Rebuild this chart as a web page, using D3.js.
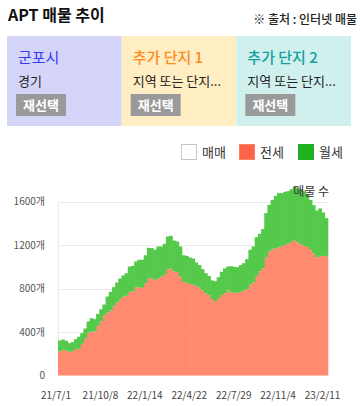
<!DOCTYPE html>
<html><head><meta charset="utf-8">
<script src="https://cdn.jsdelivr.net/npm/d3@7"></script>
<style>
html,body{margin:0;padding:0;background:#fff;}
svg{display:block;font-family:"Noto Sans CJK KR","Noto Sans",sans-serif;}
</style></head>
<body>
<svg id="c" width="360" height="406"></svg>
<script>
// ---- data ----
const jeonse = [221,236,230,218,224,242,245,291,340,395,405,405,457,497,555,579,598,641,671,702,726,
  733,769,772,812,812,806,849,892,895,880,892,910,926,978,984,956,953,910,861,855,843,834,
  824,809,782,757,739,702,683,714,739,757,782,763,763,760,769,782,794,837,855,916,959,987,
  1088,1140,1159,1171,1177,1192,1201,1214,1229,1247,1223,1208,1192,1183,1162,1125,1085,1100,1100,1094];
const wolse = [101,95,89,79,83,92,111,98,92,102,122,113,110,113,98,147,171,171,184,190,194,
  208,233,236,236,252,258,257,282,276,276,294,276,285,300,300,285,279,276,245,245,242,242,
  215,206,196,184,177,172,184,190,214,227,220,242,236,236,246,251,276,319,331,356,344,359,
  405,429,456,481,500,485,488,481,484,491,496,505,503,478,453,441,432,436,399,353];
const tickLabels = ["21/7/1","21/10/8","22/1/14","22/4/22","22/7/29","22/11/4","23/2/11"];
const tickEvery = 14;
const yTicks = [0,400,800,1200,1600];
const seriesKeys = ["전세","월세"];
const legendItems = ["매매","전세","월세"];
const panels = [
  {title:"군포시", sub:"경기"},
  {title:"추가 단지 1", sub:"지역 또는 단지..."},
  {title:"추가 단지 2", sub:"지역 또는 단지..."}
];

// ---- styles ----
const colors = {"전세":"#ff8a70","월세":"#55c94b"};
const legendFill = {"매매":"#ffffff","전세":"#ff6347","월세":"#1db31d"};
const legendStroke = {"매매":"#c4c4cc","전세":"#ff7f66","월세":"#2aa52a"};
const panelBg = ["#d5d5fa","#ffedc3","#d0f0ee"];
const panelColor = ["#3a3af5","#ff8c1a","#14a0a0"];

const svg = d3.select("#c");

// header
svg.append("text").attr("x",8).attr("y",21).attr("font-size",16).attr("font-weight","bold")
  .attr("fill","#111").text("APT 매물 추이");
svg.append("text").attr("x",357).attr("y",24).attr("font-size",12).attr("font-weight",500)
  .attr("text-anchor","end").attr("fill","#222").text("※ 출처 : 인터넷 매물");

// panels
const px = d3.scaleBand().domain(d3.range(panels.length)).range([7,351]);
panels.forEach((p,i)=>{
  const g = svg.append("g").attr("transform",`translate(${px(i)},36)`);
  g.append("rect").attr("width",px.bandwidth()).attr("height",90).attr("fill",panelBg[i]);
  g.append("text").attr("x",11).attr("y",27).attr("font-size",15).attr("fill",panelColor[i])
    .attr("font-weight",i===0?400:500).text(p.title);
  g.append("text").attr("x",11).attr("y",50).attr("font-size",13).attr("fill","#222").text(p.sub);
  g.append("rect").attr("x",9).attr("y",58).attr("width",50).attr("height",22).attr("fill","#9a9a9a");
  g.append("text").attr("x",34).attr("y",74).attr("text-anchor","middle").attr("font-size",13)
    .attr("font-weight","bold").attr("fill","#fff").text("재선택");
});

// legend
const lx = d3.scaleOrdinal().domain(legendItems).range([181,239,298]);
legendItems.forEach(k=>{
  const g = svg.append("g").attr("transform",`translate(${lx(k)},144)`);
  g.append("rect").attr("x",0.5).attr("y",0.5).attr("width",15).attr("height",15)
    .attr("fill",legendFill[k]).attr("stroke",legendStroke[k]).attr("stroke-width",1);
  g.append("text").attr("x",21).attr("y",13).attr("font-size",13).attr("fill","#333").text(k);
});

// chart
const x = d3.scaleBand().domain(d3.range(jeonse.length)).range([58,327.7]).padding(0);
const y = d3.scaleLinear().domain([0,1600]).range([375.5,201.5]);

const grid = svg.append("g");
grid.selectAll("line").data(yTicks.slice(1)).join("line")
  .attr("x1",58).attr("x2",328).attr("y1",d=>Math.round(y(d))+0.5).attr("y2",d=>Math.round(y(d))+0.5)
  .attr("stroke","#ebebeb");
grid.append("line").attr("x1",58.5).attr("x2",58.5).attr("y1",y(1600)).attr("y2",y(0)).attr("stroke","#ebebeb");

const rows = jeonse.map((v,i)=>({i, "전세":v, "월세":wolse[i]}));
const stacked = d3.stack().keys(seriesKeys)(rows);
svg.append("g").selectAll("g").data(stacked).join("g").attr("fill",d=>colors[d.key])
  .selectAll("rect").data(d=>d).join("rect")
  .attr("x",d=>x(d.data.i)).attr("width",x.bandwidth()+0.6)
  .attr("y",d=>y(d[1])).attr("height",d=>y(d[0])-y(d[1]));

// y axis labels
svg.append("g").selectAll("text").data(yTicks).join("text")
  .attr("x",45).attr("y",d=>y(d)).attr("dy","0.35em").attr("text-anchor","end")
  .attr("font-size",10).attr("fill","#555").text(d=>d===0?"0":d+"개");

// x axis labels
svg.append("g").selectAll("text").data(tickLabels).join("text")
  .attr("x",(d,i)=>x(i*tickEvery)-2).attr("y",399).attr("text-anchor","middle")
  .attr("font-size",10).attr("fill","#444").text(d=>d);

// series title
svg.append("text").attr("x",329).attr("y",196).attr("text-anchor","end").attr("font-size",12)
  .attr("fill","#333").text("매물 수");
</script>
</body></html>
